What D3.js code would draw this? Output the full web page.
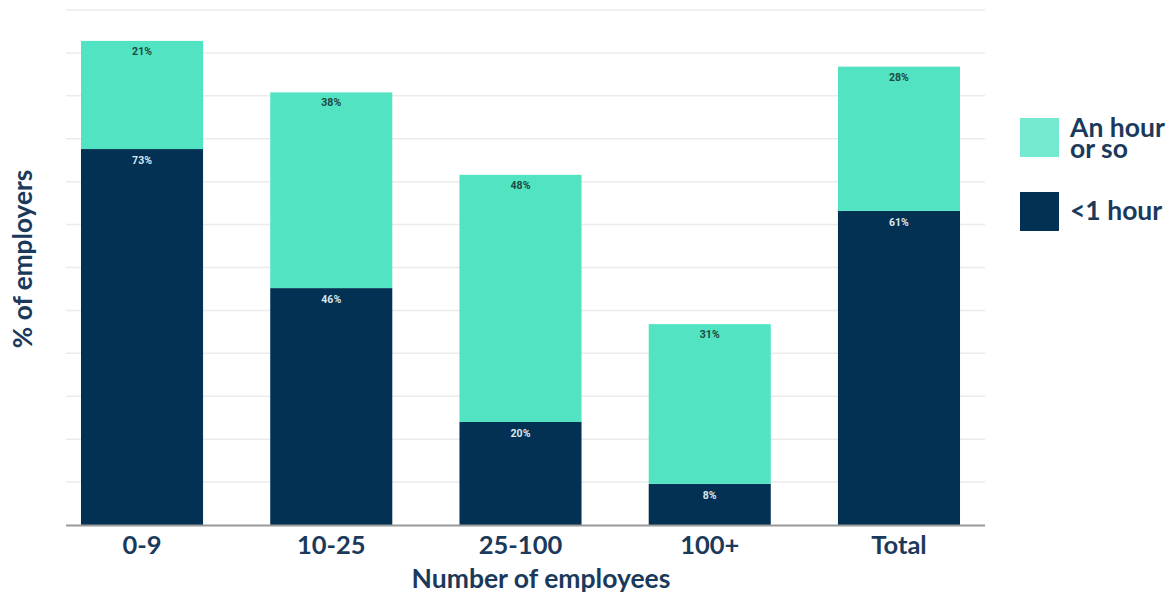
<!DOCTYPE html>
<html>
<head>
<meta charset="utf-8">
<script src="https://cdn.jsdelivr.net/npm/d3@7/dist/d3.min.js"></script>
<style>
  html, body { margin: 0; padding: 0; background: #fff; }
  svg { display: block; font-family: Lato, "Open Sans", sans-serif; }
</style>
</head>
<body>
<svg id="chart" width="1173" height="594"></svg>
<script>
// Share of employers by company size
const categories = ["0-9", "10-25", "25-100", "100+", "Total"];
const underHour = [73, 46, 20, 8, 61];      // "<1 hour"
const hourOrSo = [21, 38, 48, 31, 28];      // "An hour or so"
const seriesNames = ["<1 hour", "An hour or so"];
const gridTicks = d3.range(0, 13).map(i => i * 100 / 12);

const colors = { dark: "#023153", light: "#52E3C2", lightKey: "#73EACF", text: "#1B3A5B" };

const svg = d3.select("#chart");
const plot = { left: 66, right: 985, top: 10, bottom: 525 };

const x = d3.scaleBand()
  .domain(categories)
  .range([47.4, 993.6])
  .paddingInner(0.355)
  .paddingOuter(0.1775);

const y = d3.scaleLinear().domain([0, 100]).range([plot.bottom, plot.top]);

// horizontal grid
svg.append("g")
  .selectAll("line")
  .data(gridTicks.slice(1))
  .join("line")
  .attr("x1", plot.left).attr("x2", plot.right)
  .attr("y1", d => y(d)).attr("y2", d => y(d))
  .attr("stroke", "#ebebeb").attr("stroke-width", 1.5);

const rows = categories.map((c, i) => ({ cat: c, dark: underHour[i], light: hourOrSo[i] }));

// stacked bars
const bars = svg.append("g");
bars.selectAll("rect.dark")
  .data(rows)
  .join("rect")
  .attr("class", "dark")
  .attr("x", d => x(d.cat)).attr("width", x.bandwidth())
  .attr("y", d => y(d.dark)).attr("height", d => y(0) - y(d.dark))
  .attr("fill", colors.dark);

bars.selectAll("rect.light")
  .data(rows)
  .join("rect")
  .attr("class", "light")
  .attr("x", d => x(d.cat)).attr("width", x.bandwidth())
  .attr("y", d => y(d.dark + d.light)).attr("height", d => y(d.dark) - y(d.dark + d.light))
  .attr("fill", colors.light);

// segment value labels
const labels = svg.append("g")
  .attr("font-family", "Roboto, sans-serif")
  .attr("font-weight", 700)
  .attr("font-size", 10.5)
  .attr("text-anchor", "middle");

labels.selectAll("text.dl")
  .data(rows)
  .join("text")
  .attr("class", "dl")
  .attr("x", d => x(d.cat) + x.bandwidth() / 2)
  .attr("y", d => y(d.dark) + 15)
  .attr("fill", "#dde6ee")
  .text(d => d.dark + "%");

labels.selectAll("text.ll")
  .data(rows)
  .join("text")
  .attr("class", "ll")
  .attr("x", d => x(d.cat) + x.bandwidth() / 2)
  .attr("y", d => y(d.dark + d.light) + 14)
  .attr("fill", "#1c4a42")
  .text(d => d.light + "%");

// baseline
svg.append("line")
  .attr("x1", plot.left).attr("x2", plot.right)
  .attr("y1", y(0) + 0.5).attr("y2", y(0) + 0.5)
  .attr("stroke", "#9a9a9a").attr("stroke-width", 2);

// category axis
const xAxis = svg.append("g")
  .attr("transform", `translate(0,${plot.bottom})`)
  .call(d3.axisBottom(x).tickSize(0).tickPadding(11));
xAxis.select(".domain").remove();
xAxis.selectAll("text")
  .attr("font-family", "Lato, sans-serif")
  .attr("font-size", 25.5)
  .attr("font-weight", 700)
  .attr("fill", colors.text)
  .attr("dy", "0.71em");

// axis titles
svg.append("text")
  .attr("x", 541).attr("y", 588)
  .attr("text-anchor", "middle")
  .attr("font-size", 26.5).attr("font-weight", 700)
  .attr("fill", colors.text)
  .text("Number of employees");

svg.append("text")
  .attr("transform", "translate(32,259) rotate(-90)")
  .attr("text-anchor", "middle")
  .attr("font-size", 26.2).attr("font-weight", 700)
  .attr("fill", colors.text)
  .text("% of employers");

// legend
const legend = svg.append("g").attr("font-size", 26.5).attr("font-weight", 700).attr("fill", colors.text);
legend.append("rect").attr("x", 1020).attr("y", 118).attr("width", 39).attr("height", 39).attr("fill", colors.lightKey);
const twoLine = legend.append("text").attr("x", 1070).attr("y", 137);
twoLine.append("tspan").attr("x", 1070).text("An hour");
twoLine.append("tspan").attr("x", 1070).attr("dy", 21).text("or so");
legend.append("rect").attr("x", 1020).attr("y", 192).attr("width", 39).attr("height", 39).attr("fill", colors.dark);
legend.append("text").attr("x", 1070).attr("y", 220).text(seriesNames[0]);
</script>
</body>
</html>
